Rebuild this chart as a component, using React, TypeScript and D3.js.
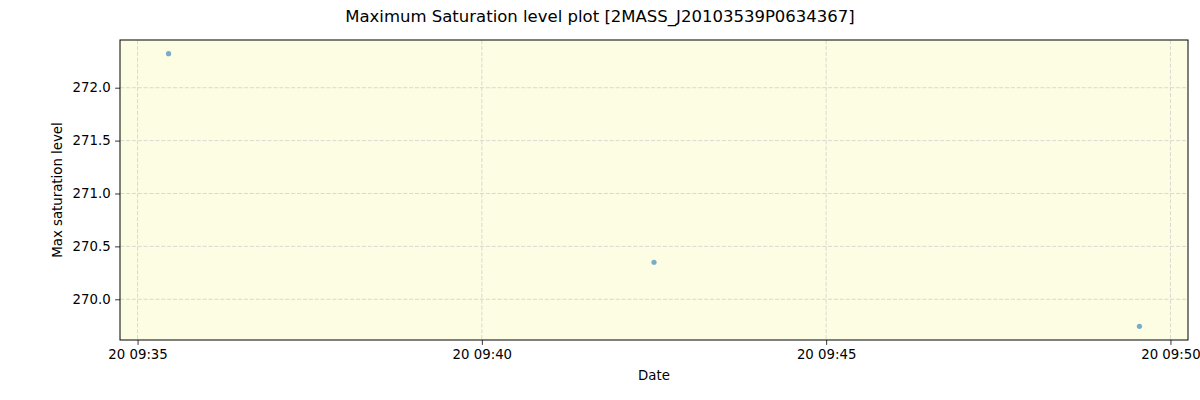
import { useEffect, useRef } from "react";
import * as d3 from "d3";

// observation times (local) and max saturation levels
const times = [
  new Date(2021, 6, 20, 9, 35, 27),
  new Date(2021, 6, 20, 9, 42, 30),
  new Date(2021, 6, 20, 9, 49, 33),
];
const levels = [272.322, 270.35, 269.744];
const yTicks = [270.0, 270.5, 271.0, 271.5, 272.0];
const xTicks = [
  new Date(2021, 6, 20, 9, 35),
  new Date(2021, 6, 20, 9, 40),
  new Date(2021, 6, 20, 9, 45),
  new Date(2021, 6, 20, 9, 50),
];

const App = () => {
  const ref = useRef<SVGSVGElement>(null);

  useEffect(() => {
    document.body.style.margin = "0";
    const svg = d3.select(ref.current);
    svg.selectAll("*").remove();

    const margin = { top: 40, right: 12, bottom: 60, left: 120 };
    const width = 1200 - margin.left - margin.right;
    const height = 400 - margin.top - margin.bottom;
    const font = "DejaVu Sans, sans-serif";

    // matplotlib style 5% padding around data
    const tExt = d3.extent(times, (d) => d.getTime()) as [number, number];
    const tPad = (tExt[1] - tExt[0]) * 0.05;
    const yExt = d3.extent(levels) as [number, number];
    const yPad = (yExt[1] - yExt[0]) * 0.05;

    const x = d3.scaleTime()
      .domain([new Date(tExt[0] - tPad), new Date(tExt[1] + tPad)])
      .range([0, width]);
    const y = d3.scaleLinear()
      .domain([yExt[0] - yPad, yExt[1] + yPad])
      .range([height, 0]);

    const g = svg.append("g")
      .attr("transform", "translate(" + margin.left + "," + margin.top + ")");

    g.append("rect")
      .attr("width", width)
      .attr("height", height)
      .attr("fill", "#fdfde3");

    // grid
    g.selectAll(".vgrid")
      .data(xTicks)
      .enter()
      .append("line")
      .attr("x1", (d) => x(d)).attr("x2", (d) => x(d))
      .attr("y1", 0).attr("y2", height)
      .attr("stroke", "#cfcfcf").attr("stroke-width", 0.8)
      .attr("stroke-dasharray", "4.1,1.8");
    g.selectAll(".hgrid")
      .data(yTicks)
      .enter()
      .append("line")
      .attr("x1", 0).attr("x2", width)
      .attr("y1", (d) => y(d)).attr("y2", (d) => y(d))
      .attr("stroke", "#cfcfcf").attr("stroke-width", 0.8)
      .attr("stroke-dasharray", "4.1,1.8");

    // points
    g.selectAll(".pt")
      .data(times)
      .enter()
      .append("circle")
      .attr("cx", (d) => x(d))
      .attr("cy", (d, i) => y(levels[i]))
      .attr("r", 2.6)
      .attr("fill", "#1f77b4")
      .attr("fill-opacity", 0.6);

    // axes
    const xAxis = g.append("g")
      .attr("transform", "translate(0," + height + ")")
      .call(d3.axisBottom(x).tickValues(xTicks)
        .tickFormat(d3.timeFormat("%d %H:%M") as any)
        .tickSize(4.9).tickPadding(4.5));
    const yAxis = g.append("g")
      .call(d3.axisLeft(y).tickValues(yTicks)
        .tickFormat(d3.format(".1f"))
        .tickSize(4.9).tickPadding(4.5));
    [xAxis, yAxis].forEach((a) => {
      a.select(".domain").remove();
      a.selectAll("text").attr("font-family", font).attr("font-size", 13.3).attr("fill", "#000");
      a.selectAll("line").attr("stroke", "#000").attr("stroke-width", 0.8);
    });

    g.append("rect")
      .attr("width", width)
      .attr("height", height)
      .attr("fill", "none")
      .attr("stroke", "#000")
      .attr("stroke-width", 1);

    // labels
    svg.append("text")
      .attr("x", 600).attr("y", 22)
      .attr("text-anchor", "middle")
      .attr("font-family", font).attr("font-size", 16.5)
      .text("Maximum Saturation level plot [2MASS_J20103539P0634367]");
    svg.append("text")
      .attr("x", margin.left + width / 2).attr("y", 380)
      .attr("text-anchor", "middle")
      .attr("font-family", font).attr("font-size", 13.3)
      .text("Date");
    svg.append("text")
      .attr("transform", "translate(62," + (margin.top + height / 2) + ") rotate(-90)")
      .attr("text-anchor", "middle")
      .attr("font-family", font).attr("font-size", 13.3)
      .text("Max saturation level");
  }, []);

  return <svg ref={ref} width={1200} height={400} style={{ display: "block" }}></svg>;
};

export default App;
